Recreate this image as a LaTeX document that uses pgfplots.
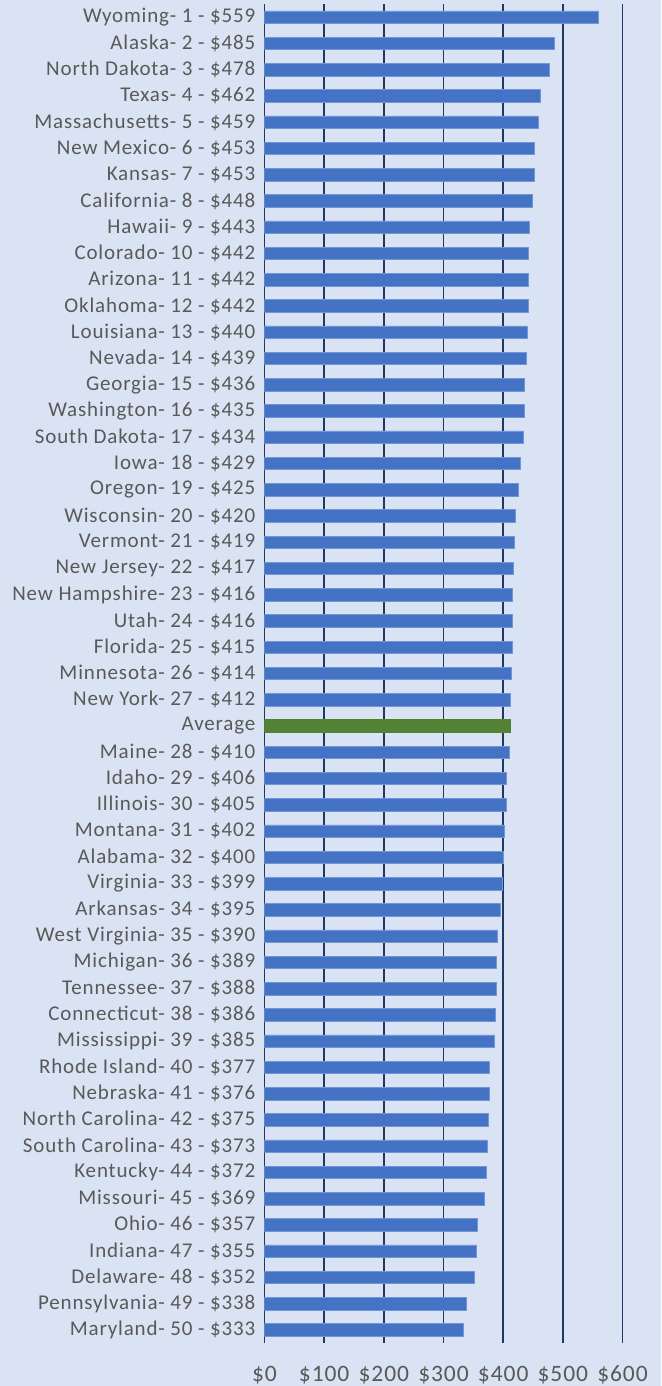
\documentclass[border=0pt]{standalone}
\usepackage{pgfplots}
\pgfplotsset{compat=1.18}
\usepackage{fontspec}
\setmainfont{Carlito}
\newfontfamily\lblfont[LetterSpace=4]{Carlito}
\definecolor{bg}{HTML}{DAE3F3}
\definecolor{barblue}{HTML}{4472C4}
\definecolor{baredge}{HTML}{7396D6}
\definecolor{avggreen}{HTML}{548235}
\definecolor{gridnavy}{HTML}{203864}
\definecolor{txtgray}{HTML}{595959}
\definecolor{axgray}{HTML}{D0D0D0}
\begin{document}
\begin{tikzpicture}
\fill[bg] (0,0) rectangle (661pt,1386pt);
\path[use as bounding box] (0,0) rectangle (661pt,1386pt);
\begin{axis}[
  at={(264.5pt,43pt)}, anchor=south west,
  scale only axis, width=358pt, height=1339pt,
  xmin=0, xmax=600, ymin=-0.5, ymax=50.5, y dir=reverse,
  axis line style={draw=none},
  major tick length=0pt,
  xtick={100,200,300,400,500,600},
  xticklabels={\$100,\$200,\$300,\$400,\$500,\$600},
  extra x ticks={0}, extra x tick labels={\$0},
  extra x tick style={grid style={draw=axgray, line width=1pt}},
  xmajorgrids, major grid style={draw=gridnavy, line width=1.5pt},
  xticklabel style={anchor=center, yshift=-32pt, font=\lblfont\fontsize{23.5}{26}\selectfont, text=txtgray},
  ytick={0,...,50},
  yticklabel style={anchor=east, inner xsep=0pt, xshift=-9pt, font=\lblfont\fontsize{21}{24}\selectfont, text=txtgray},
  yticklabels={
{Wyoming- 1 - \$559},{Alaska- 2 - \$485},{North Dakota- 3 - \$478},{Texas- 4 - \$462},{Massachusetts- 5 - \$459},
{New Mexico- 6 - \$453},{Kansas- 7 - \$453},{California- 8 - \$448},{Hawaii- 9 - \$443},{Colorado- 10 - \$442},
{Arizona- 11 - \$442},{Oklahoma- 12 - \$442},{Louisiana- 13 - \$440},{Nevada- 14 - \$439},{Georgia- 15 - \$436},
{Washington- 16 - \$435},{South Dakota- 17 - \$434},{Iowa- 18 - \$429},{Oregon- 19 - \$425},{Wisconsin- 20 - \$420},
{Vermont- 21 - \$419},{New Jersey- 22 - \$417},{New Hampshire- 23 - \$416},{Utah- 24 - \$416},{Florida- 25 - \$415},
{Minnesota- 26 - \$414},{New York- 27 - \$412},{Average},{Maine- 28 - \$410},{Idaho- 29 - \$406},
{Illinois- 30 - \$405},{Montana- 31 - \$402},{Alabama- 32 - \$400},{Virginia- 33 - \$399},{Arkansas- 34 - \$395},
{West Virginia- 35 - \$390},{Michigan- 36 - \$389},{Tennessee- 37 - \$388},{Connecticut- 38 - \$386},{Mississippi- 39 - \$385},
{Rhode Island- 40 - \$377},{Nebraska- 41 - \$376},{North Carolina- 42 - \$375},{South Carolina- 43 - \$373},{Kentucky- 44 - \$372},
{Missouri- 45 - \$369},{Ohio- 46 - \$357},{Indiana- 47 - \$355},{Delaware- 48 - \$352},{Pennsylvania- 49 - \$338},
{Maryland- 50 - \$333}},
  xbar, bar width=12.5pt, bar shift=0pt,
]
\addplot[fill=barblue, draw=baredge, line width=0.6pt] coordinates {
(559,0) (485,1) (478,2) (462,3) (459,4) (453,5) (453,6) (448,7) (443,8) (442,9)
(442,10) (442,11) (440,12) (439,13) (436,14) (435,15) (434,16) (429,17) (425,18) (420,19)
(419,20) (417,21) (416,22) (416,23) (415,24) (414,25) (412,26)
(410,28) (406,29) (405,30) (402,31) (400,32) (399,33) (395,34) (390,35)
(389,36) (388,37) (386,38) (385,39) (377,40) (376,41) (375,42) (373,43) (372,44)
(369,45) (357,46) (355,47) (352,48) (338,49) (333,50)};
\addplot[fill=avggreen, draw=avggreen, line width=0.6pt] coordinates {(412.4,27)};
\end{axis}
\end{tikzpicture}
\end{document}
